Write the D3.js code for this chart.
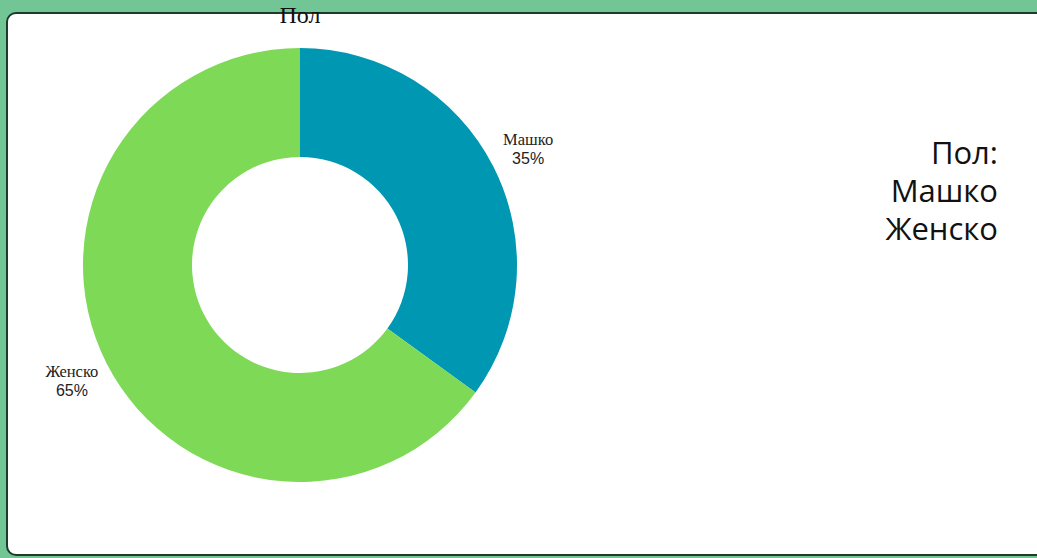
<!DOCTYPE html>
<html>
<head>
<meta charset="utf-8">
<script src="https://cdn.jsdelivr.net/npm/d3@7"></script>
<style>
  html, body { margin: 0; padding: 0; background: #72c595; overflow: hidden; }
  svg { display: block; }
</style>
</head>
<body>
<div id="chart"></div>
<script>
let categories = ["Машко", "Женско"];
let values = [35, 65];
let colors = ["#0097b2", "#7ed957"];
let title = "Пол";
let legendTitle = "Пол:";

var width = 1037, height = 558;
var cx = 300, cy = 265, outerR = 217, innerR = 108, labelR = 256;

let svg = d3.select("#chart")
  .append("svg")
  .attr("width", width)
  .attr("height", height)
  .style("background-color", "#72c595");

// white card, runs off the right edge
svg.append("rect")
  .attr("x", 7)
  .attr("y", 13)
  .attr("width", 1100)
  .attr("height", 542)
  .attr("rx", 9)
  .style("fill", "white")
  .style("stroke", "#1d3b2a")
  .style("stroke-width", 2);

let data = categories.map((c, i) => ({ name: c, value: values[i], color: colors[i] }));

let pie = d3.pie().sort(null).value(d => d.value);
let arc = d3.arc().innerRadius(innerR).outerRadius(outerR);
let labelArc = d3.arc().innerRadius(labelR).outerRadius(labelR);

let g = svg.append("g").attr("transform", `translate(${cx},${cy})`);

g.selectAll("path")
  .data(pie(data))
  .enter()
  .append("path")
  .attr("d", arc)
  .style("fill", d => d.data.color);

let labels = g.selectAll(".label")
  .data(pie(data))
  .enter()
  .append("text")
  .attr("class", "label")
  .attr("transform", d => `translate(${labelArc.centroid(d)})`)
  .style("text-anchor", "middle")
  .style("fill", "#222");

labels.append("tspan")
  .attr("x", 0)
  .attr("y", -4)
  .style("font-family", "'Liberation Serif', serif")
  .style("font-size", "16.5px")
  .text(d => d.data.name);

labels.append("tspan")
  .attr("x", 0)
  .attr("y", 15)
  .style("font-family", "'Liberation Sans', Arial, sans-serif")
  .style("font-size", "16px")
  .text(d => d.data.value + "%");

svg.append("text")
  .attr("x", cx)
  .attr("y", 23)
  .style("text-anchor", "middle")
  .style("font-family", "'Liberation Serif', serif")
  .style("font-size", "24px")
  .style("fill", "#111")
  .text(title);

let legendLines = [legendTitle].concat(categories);
svg.append("g")
  .attr("id", "legend")
  .selectAll("text")
  .data(legendLines)
  .enter()
  .append("text")
  .attr("x", 998)
  .attr("y", (d, i) => 164 + i * 38)
  .style("text-anchor", "end")
  .style("font-family", "'Open Sans', sans-serif")
  .style("font-size", "31px")
  .style("fill", "#111")
  .text(d => d);
</script>
</body>
</html>
